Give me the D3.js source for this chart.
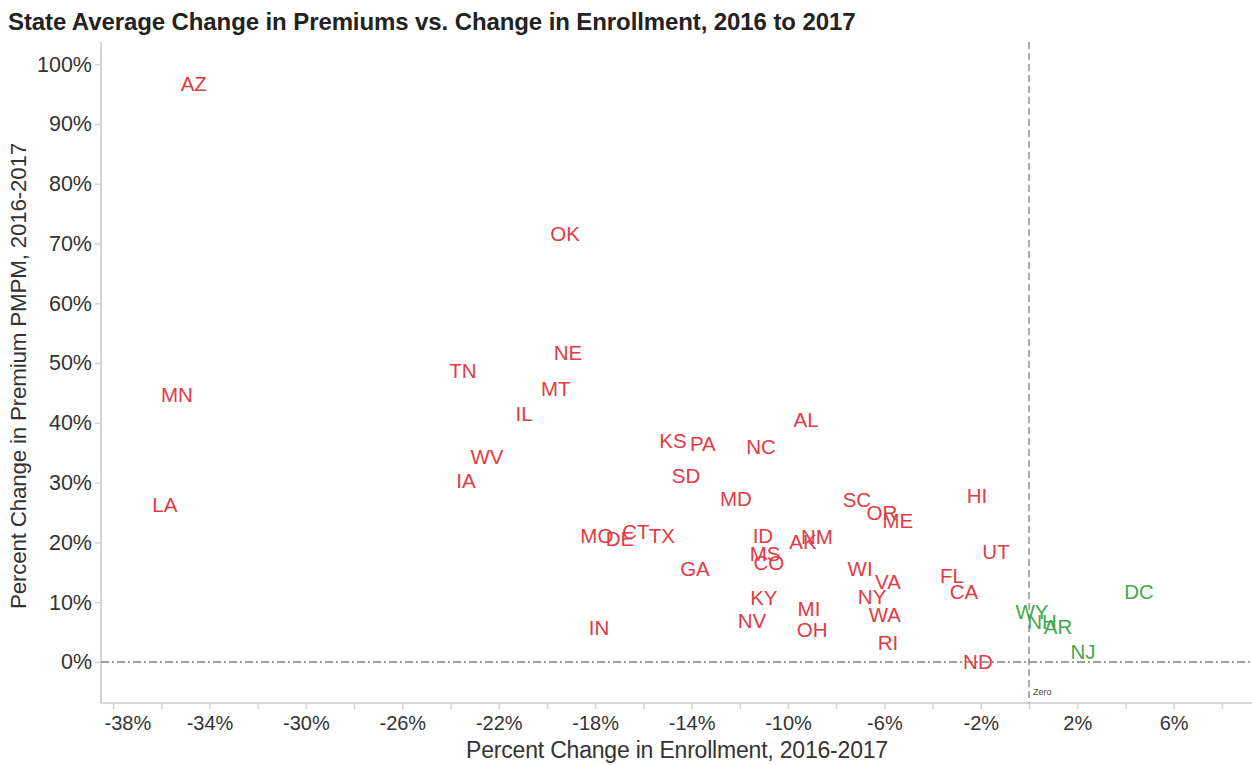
<!DOCTYPE html>
<html>
<head>
<meta charset="utf-8">
<script src="https://cdn.jsdelivr.net/npm/d3@7"></script>
<style>
  html, body { margin: 0; padding: 0; background: #fff; }
  svg { display: block; font-family: "Liberation Sans", Arial, sans-serif; }
</style>
</head>
<body>
<svg id="chart" width="1252" height="765"></svg>
<script>
// ---- data ----
const states = ["AZ","OK","NE","TN","MN","MT","IL","AL","KS","PA","NC","WV","SD","IA","LA","MD","SC","HI","OR","ME","MO","CT","DE","TX","ID","NM","AK","UT","MS","CO","GA","WI","FL","VA","CA","DC","KY","NY","MI","WY","WA","NH","AR","NV","IN","OH","RI","NJ","ND"];
const enrollChange = [-34.65,-19.25,-19.13,-23.49,-35.35,-19.63,-20.95,-9.25,-14.77,-13.53,-11.12,-22.49,-14.23,-23.36,-35.85,-12.16,-7.14,-2.16,-6.10,-5.44,-17.93,-16.31,-16.97,-15.23,-11.04,-8.80,-9.38,-1.37,-10.95,-10.79,-13.86,-7.01,-3.20,-5.85,-2.70,4.56,-11.00,-6.51,-9.13,0.12,-5.98,0.54,1.20,-11.49,-17.84,-9.00,-5.85,2.24,-2.12];
const premiumChange = [96.7,71.6,51.8,48.8,44.8,45.8,41.5,40.5,37.1,36.6,36.1,34.4,31.1,30.4,26.4,27.3,27.1,27.8,24.9,23.7,21.1,21.8,20.6,21.1,21.2,20.9,20.1,18.4,18.1,16.7,15.6,15.7,14.4,13.4,11.7,11.7,10.7,10.9,8.9,8.4,7.9,6.7,5.9,7.0,5.7,5.4,3.2,1.7,0.0];
const xTickValues = [-38,-34,-30,-26,-22,-18,-14,-10,-6,-2,2,6];
const xMinorTicks = [-38,-36,-34,-32,-30,-28,-26,-24,-22,-20,-18,-16,-14,-12,-10,-8,-6,-4,-2,0,2,4,6,8];
const yTickValues = [0,10,20,30,40,50,60,70,80,90,100];
const title = "State Average Change in Premiums vs. Change in Enrollment, 2016 to 2017";
const xTitle = "Percent Change in Enrollment, 2016-2017";
const yTitle = "Percent Change in Premium PMPM, 2016-2017";

// ---- layout ----
const plot = { left: 101, right: 1252, top: 42, bottom: 703 };
const svg = d3.select("#chart");

const x = d3.scaleLinear().domain([-38.5, 9.25]).range([plot.left, plot.right]);
const y = d3.scaleLinear().domain([-6.86, 103.7]).range([plot.bottom, plot.top]);

const red = "#e23b45", green = "#45a84a";
const textColor = "#333333";
const axisColor = "#d4d4d4";
const refColor = "#808080";

// title
svg.append("text").attr("x", 8).attr("y", 30)
  .attr("font-size", 24).attr("font-weight", "bold").attr("fill", "#222")
  .attr("letter-spacing", -0.1)
  .text(title);

// axis lines
svg.append("line").attr("x1", plot.left).attr("x2", plot.left)
  .attr("y1", plot.top).attr("y2", plot.bottom)
  .attr("stroke", axisColor).attr("stroke-width", 2);
svg.append("line").attr("x1", plot.left).attr("x2", plot.right)
  .attr("y1", plot.bottom).attr("y2", plot.bottom)
  .attr("stroke", axisColor).attr("stroke-width", 2);

// x axis (ticks every 2%, labels every 4%)
const xAxisG = svg.append("g").attr("transform", `translate(0,${plot.bottom + 1})`);
xAxisG.call(d3.axisBottom(x).tickValues(xMinorTicks).tickSize(5).tickFormat(""));
xAxisG.select(".domain").remove();
xAxisG.selectAll(".tick line").attr("stroke", axisColor).attr("stroke-width", 1.5);
const xLabG = svg.append("g").attr("transform", `translate(0,${plot.bottom + 1})`);
xLabG.call(d3.axisBottom(x).tickValues(xTickValues).tickSize(0)
  .tickFormat(d => d + "%"));
xLabG.select(".domain").remove();
xLabG.selectAll(".tick text").attr("font-size", 20).attr("fill", textColor)
  .attr("font-family", "Liberation Sans, Arial, sans-serif")
  .attr("dy", "0.35em").attr("y", 19);
// keep the left-most label inside the plot pane
xLabG.selectAll(".tick").each(function(d) {
  const t = d3.select(this).select("text");
  const bb = this.getBBox();
  const tx = x(d);
  if (tx - bb.width / 2 < plot.left + 2) {
    t.attr("text-anchor", "start").attr("x", plot.left + 3 - tx);
  }
});

// y axis
const yAxisG = svg.append("g").attr("transform", `translate(${plot.left - 1},0)`);
yAxisG.call(d3.axisLeft(y).tickValues(yTickValues).tickSize(5).tickPadding(3)
  .tickFormat(d => d + "%"));
yAxisG.select(".domain").remove();
yAxisG.selectAll(".tick line").attr("stroke", axisColor).attr("stroke-width", 1.5);
yAxisG.selectAll(".tick text").attr("font-size", 21.5).attr("fill", textColor)
  .attr("font-family", "Liberation Sans, Arial, sans-serif");

// axis titles
svg.append("text").attr("x", 677).attr("y", 758)
  .attr("text-anchor", "middle").attr("font-size", 23).attr("fill", textColor)
  .attr("letter-spacing", -0.2)
  .text(xTitle);
svg.append("text").attr("transform", `translate(26,376) rotate(-90)`)
  .attr("text-anchor", "middle").attr("font-size", 22.4).attr("fill", textColor)
  .attr("letter-spacing", -0.2)
  .text(yTitle);

// reference lines at zero
svg.append("line").attr("x1", plot.left).attr("x2", plot.right)
  .attr("y1", y(0)).attr("y2", y(0))
  .attr("stroke", refColor).attr("stroke-width", 1.3).attr("stroke-dasharray", "8,3,2,3");
svg.append("line").attr("x1", x(0)).attr("x2", x(0))
  .attr("y1", plot.top).attr("y2", plot.bottom)
  .attr("stroke", refColor).attr("stroke-width", 1.3).attr("stroke-dasharray", "7,4");
svg.append("text").attr("x", x(0) + 4).attr("y", plot.bottom - 8)
  .attr("font-size", 9).attr("fill", "#444").text("Zero");

// state labels
const data = states.map((s, i) => ({ s, ex: enrollChange[i], pr: premiumChange[i] }));
svg.append("g").selectAll("text").data(data).join("text")
  .attr("x", d => x(d.ex)).attr("y", d => y(d.pr))
  .attr("dy", "0.36em").attr("text-anchor", "middle")
  .attr("font-size", 20.5).attr("fill", d => d.ex > 0 ? green : red)
  .text(d => d.s);
</script>
</body>
</html>
